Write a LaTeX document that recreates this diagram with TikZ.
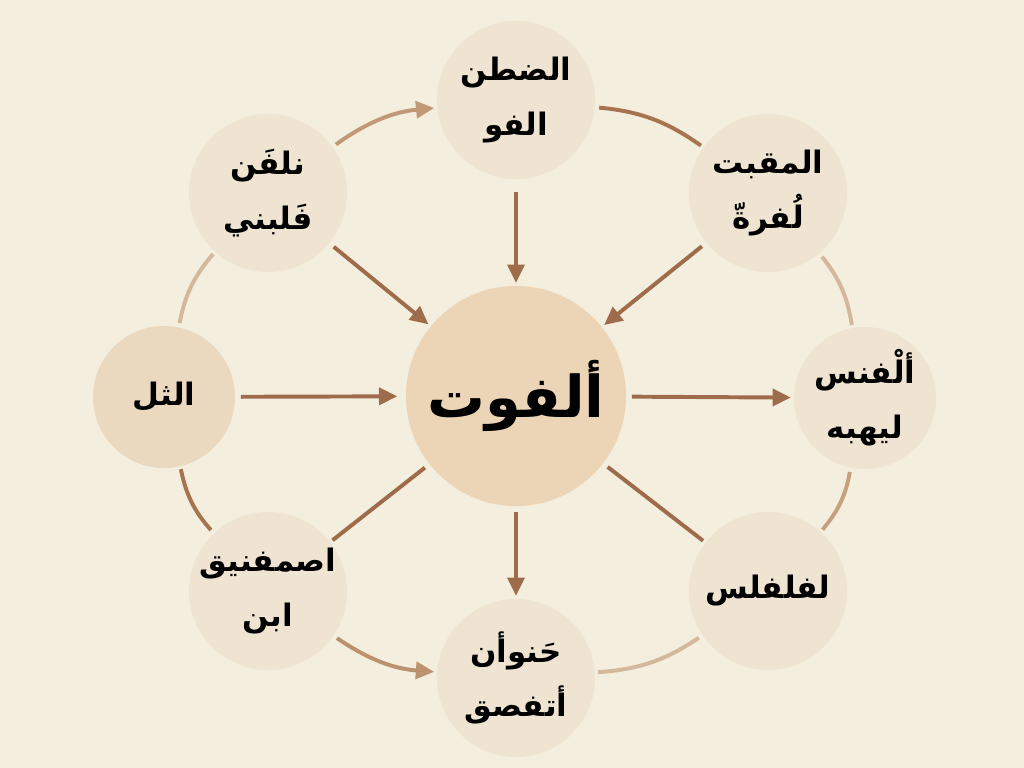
\documentclass[tikz,border=0pt]{standalone}
\usepackage{fontspec}
\newfontfamily\arabicfont[Script=Arabic]{DejaVu Sans}
\TeXXeTstate=1
\usetikzlibrary{arrows.meta}

\definecolor{bgcream}{HTML}{F4EEDF}
\definecolor{hubfill}{HTML}{EBD5B6}
\definecolor{leaffill}{HTML}{EEE4D1}
\definecolor{sidefill}{HTML}{EBD9BF}
\definecolor{spokecol}{HTML}{9E6C4B}
\definecolor{ringdark}{HTML}{A6744F}
\definecolor{ringmid}{HTML}{BC916D}
\definecolor{ringlight}{HTML}{D3B89B}

\newcommand{\rl}[1]{\beginR #1\endR}

\begin{document}
\begin{tikzpicture}[x=0.025cm, y=-0.025cm,
    hub/.style={circle, fill=hubfill, minimum size=5.5cm, inner sep=0pt,
      font=\arabicfont\bfseries\fontsize{41}{50}\selectfont},
    leaf/.style={circle, fill=leaffill, minimum size=3.95cm, inner sep=-8pt, align=center,
      font=\arabicfont\bfseries\fontsize{22}{39}\selectfont},
    side/.style={leaf, minimum size=3.55cm},
    spoke/.style={line width=2.8pt, draw=spokecol, shorten <=4pt, shorten >=2pt},
    ring/.style={line width=2.8pt, shorten <=3pt, shorten >=2pt},
    arrowed/.style={-{Triangle[length=13pt,width=12pt]}}]

    % background
    \fill[bgcream] (0,0) rectangle (1024,768);
    \useasboundingbox (0,0) rectangle (1024,768);

    % nodes
    \node[hub]  (ctr) at (516,396) {\rl{ألفوت}};
    \node[leaf] (top) at (516,100) {\rl{الضطن}\\\rl{الفو}};
    \node[leaf] (tl)  at (268,193) {\rl{نلفَن}\\\rl{فَلبني}};
    \node[leaf] (tr)  at (768,193) {\rl{المقبت}\\\rl{لُفرةّ}};
    \node[side,fill=sidefill] (lft) at (164,397) {\rl{الثل}};
    \node[side] (rgt) at (865,398) {\rl{ألْفنس}\\\rl{ليهبه}};
    \node[leaf] (bl)  at (268,591) {\rl{اصمفنيق}\\\rl{ابن}};
    \node[leaf] (br)  at (768,591) {\rl{لفلفلس}};
    \node[leaf] (bot) at (516,678) {\rl{حَنوأن}\\\rl{أتفصق}};

    % spokes
    \draw[spoke,arrowed,shorten <=9pt] (top) -- (ctr);
    \draw[spoke,arrowed] (tl) -- (ctr);
    \draw[spoke,arrowed] (tr) -- (ctr);
    \draw[spoke,arrowed,shorten >=6pt] (lft) -- (ctr);
    \draw[spoke,arrowed] (ctr) -- (rgt);
    \draw[spoke,arrowed] (ctr) -- (bot);
    \draw[spoke] (ctr) -- (bl);
    \draw[spoke] (ctr) -- (br);

    % ring
    \draw[ring,arrowed,draw=ringmid!80!ringlight] (tl) to[bend left=15] (top);
    \draw[ring,arrowed,draw=ringmid] (bl) to[bend right=15] (bot);
    \foreach \a/\b/\c in {top/tr/ringdark, tr/rgt/ringlight, rgt/br/ringmid!60!ringlight,
        br/bot/ringlight, bl/lft/ringdark, lft/tl/ringlight}
      \draw[ring,draw=\c] (\a) to[bend left=15] (\b);

\end{tikzpicture}
\end{document}
